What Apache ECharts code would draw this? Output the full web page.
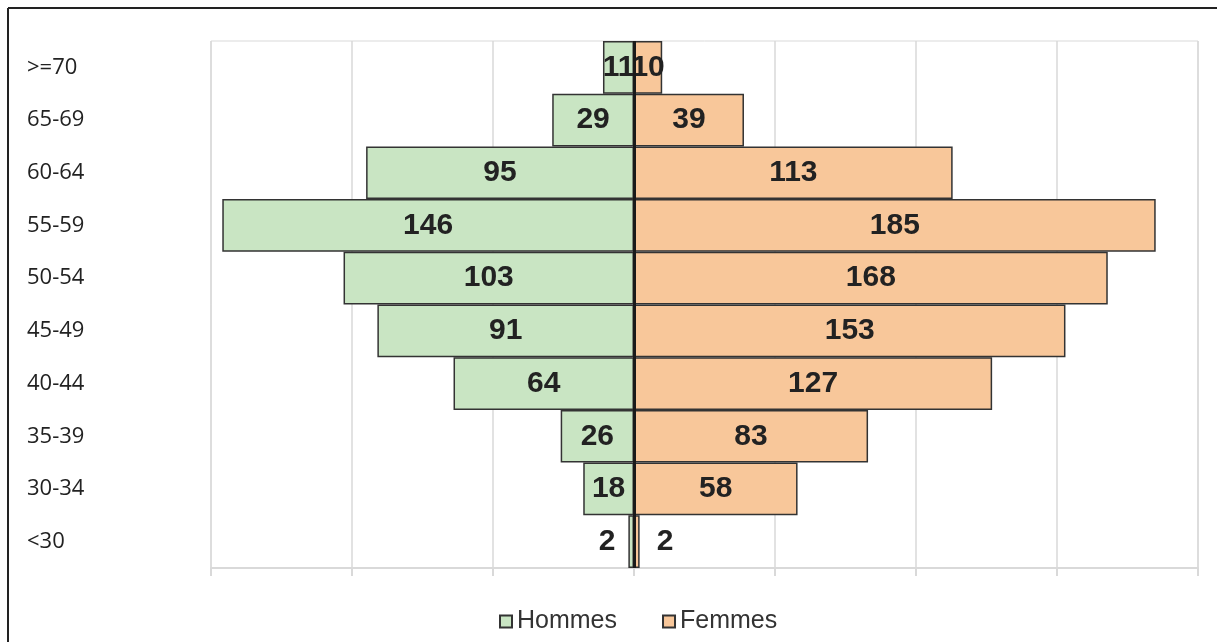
<!DOCTYPE html>
<html>
<head>
<meta charset="utf-8">
<script src="https://cdn.jsdelivr.net/npm/echarts@6/dist/echarts.min.js"></script>
<style>
  html, body { margin: 0; padding: 0; background: #fff; }
  #main { width: 1217px; height: 642px; }
</style>
</head>
<body>
<div id="main"></div>
<script>
  // age groups, bottom to top
  var ageGroups = ['<30', '30-34', '35-39', '40-44', '45-49', '50-54', '55-59', '60-64', '65-69', '>=70'];
  var hommes = [2, 18, 26, 64, 91, 103, 146, 95, 29, 11];
  var femmes = [2, 58, 83, 127, 153, 168, 185, 113, 39, 10];

  var green = '#c9e5c3';
  var orange = '#f8c79a';
  var edge = '#333333';

  var valueLabel = {
    show: true,
    fontFamily: 'Liberation Sans, Arial, sans-serif',
    fontWeight: 'bold',
    fontSize: 30,
    color: '#222'
  };

  // men drawn to the left as negative values; tiny bars get their label outside
  var menData = hommes.map(function (v) {
    var item = { value: -v };
    if (v < 5) item.label = { position: 'left', distance: 13 };
    return item;
  });
  var womenData = femmes.map(function (v) {
    var item = { value: v };
    if (v < 5) item.label = { position: 'right', distance: 17 };
    return item;
  });

  var chart = echarts.init(document.getElementById('main'));
  chart.setOption({
    animation: false,
    backgroundColor: '#fff',
    grid: {
      left: 211, right: 19, top: 41, bottom: 74,
      show: true, borderColor: '#d9d9d9', borderWidth: 1
    },
    legend: {
      top: 604,
      left: 494,
      itemWidth: 12,
      itemHeight: 12,
      itemGap: 45,
      icon: 'rect',
      textStyle: { fontFamily: 'Liberation Sans, Arial, sans-serif', fontSize: 25, color: '#333' },
      data: ['Hommes', 'Femmes']
    },
    xAxis: {
      type: 'value',
      min: -150,
      max: 200,
      interval: 50,
      axisLabel: { show: false },
      axisLine: { show: true, lineStyle: { color: '#d9d9d9', width: 2 } },
      axisTick: { show: true, length: 8, lineStyle: { color: '#d9d9d9', width: 2 } },
      splitLine: { show: true, lineStyle: { color: '#d9d9d9', width: 1.5 } }
    },
    yAxis: {
      type: 'category',
      data: ageGroups,
      axisLine: { show: false },
      axisTick: { show: false },
      axisLabel: {
        align: 'left',
        margin: 184,
        padding: [6, 0, 0, 0],
        fontFamily: 'Open Sans, Liberation Sans, sans-serif',
        fontSize: 22,
        color: '#222'
      }
    },
    series: [
      {
        name: 'Hommes',
        type: 'bar',
        stack: 'pyr',
        barCategoryGap: '0%',
        data: menData,
        itemStyle: { color: green, borderColor: edge, borderWidth: 1.5 },
        label: Object.assign({ position: 'inside', formatter: function (p) { return Math.abs(p.value); } }, valueLabel),
        markLine: {
          silent: true,
          symbol: 'none',
          label: { show: false },
          lineStyle: { color: '#1a1a1a', width: 3, type: 'solid' },
          data: [{ xAxis: 0 }]
        }
      },
      {
        name: 'Femmes',
        type: 'bar',
        stack: 'pyr',
        barCategoryGap: '0%',
        data: womenData,
        itemStyle: { color: orange, borderColor: edge, borderWidth: 1.5 },
        label: Object.assign({ position: 'inside' }, valueLabel)
      }
    ],
    graphic: [
      { type: 'line', shape: { x1: 8, y1: 8, x2: 1217, y2: 8 }, style: { stroke: '#222', lineWidth: 2 } },
      { type: 'line', shape: { x1: 8, y1: 8, x2: 8, y2: 642 }, style: { stroke: '#222', lineWidth: 2 } }
    ]
  });
</script>
</body>
</html>
